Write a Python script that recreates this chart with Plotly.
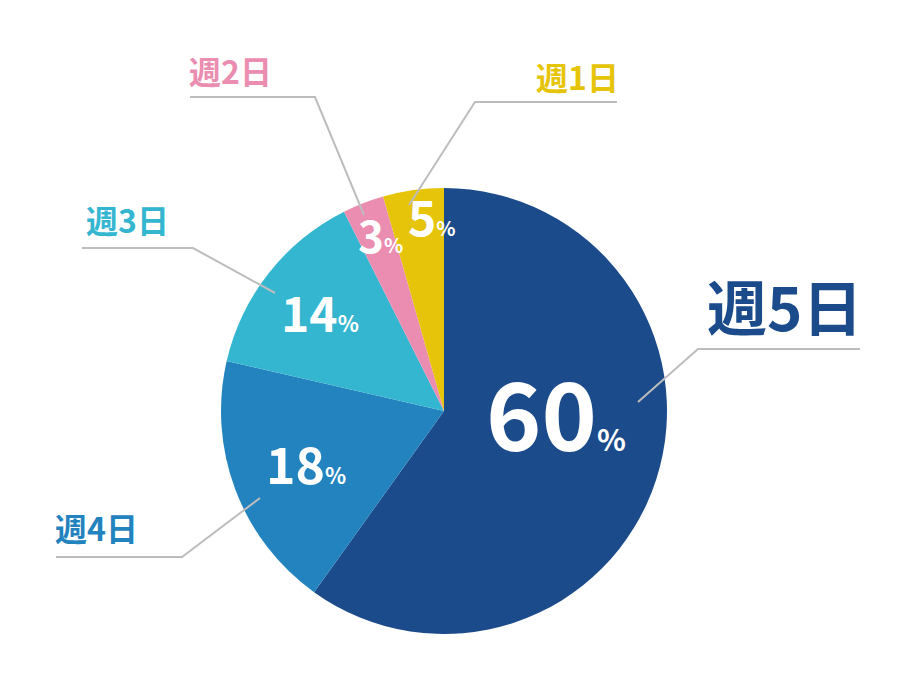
import plotly.graph_objects as go

labels = ["週5日", "週4日", "週3日", "週2日", "週1日"]
shares = [59.9, 18.7, 14.0, 3.0, 4.4]          # slice sizes as drawn
pct_labels = ["60", "18", "14", "3", "5"]       # percentages as printed
colors = ["#1b4b8b", "#2383bf", "#35b6d0", "#ea8db1", "#e6c40a"]

W, H = 918, 674
OFF = 8  # page body margin
FONT = "Noto Sans CJK JP, Noto Sans, sans-serif"

def px(x, y):
    return (x - OFF) / W, 1 - (y - OFF) / H

cx, cy, r = 444, 411, 223
x0, y0 = px(cx - r, cy + r)
x1, y1 = px(cx + r, cy - r)
fig = go.Figure(go.Pie(
    labels=labels, values=shares, sort=False, direction="clockwise", rotation=0,
    marker=dict(colors=colors, line=dict(width=0)),
    textinfo="none", hoverinfo="label+percent", showlegend=False,
    domain=dict(x=[x0, x1], y=[y0, y1]),
))

# inside value labels: (center x, center y, number size, percent size)
inside = [(556, 410, 94, 30), (306, 462, 50, 22), (320, 311, 48, 22), (380, 234, 44, 20), (432, 215, 48, 20)]
# outside name labels and leader lines
outside = [
    (784, 305, 60, [(638, 402), (698, 349), (860, 349)]),
    (96, 527, 32, [(260, 498), (182, 557), (56, 557)]),
    (127, 219, 32, [(275, 293), (193, 248), (82, 248)]),
    (230, 70, 32, [(364, 215), (315, 97), (190, 97)]),
    (577, 76, 32, [(409, 205), (475, 102), (617, 102)]),
]

annotations = []
shapes = []
for v, c, (x, y, s1, s2) in zip(pct_labels, colors, inside):
    ax, ay = px(x, y)
    annotations.append(dict(
        x=ax, y=ay, xref="paper", yref="paper", xanchor="center", yanchor="middle",
        showarrow=False,
        text=f"<b>{v}</b><span style='font-size:{s2}px'><b>%</b></span>",
        font=dict(family=FONT, size=s1, color="white"),
    ))
for lab, c, (x, y, s, pts) in zip(labels, colors, outside):
    ax, ay = px(x, y)
    annotations.append(dict(
        x=ax, y=ay, xref="paper", yref="paper", xanchor="center", yanchor="middle",
        showarrow=False, text=f"<b>{lab}</b>",
        font=dict(family=FONT, size=s, color=c),
    ))
    path = "M " + " L ".join(f"{px(a, b)[0]},{px(a, b)[1]}" for a, b in pts)
    shapes.append(dict(type="path", xref="paper", yref="paper", path=path,
                       line=dict(color="#bdbdbd", width=2)))

fig.update_layout(
    width=W, height=H, margin=dict(l=0, r=0, t=0, b=0),
    paper_bgcolor="white", plot_bgcolor="white",
    annotations=annotations, shapes=shapes,
)
fig.write_html("out.html")
